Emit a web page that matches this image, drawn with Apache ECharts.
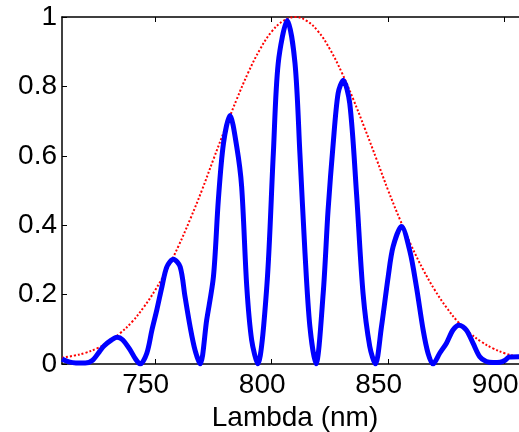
<!DOCTYPE html>
<html>
<head>
<meta charset="utf-8">
<script src="https://cdn.jsdelivr.net/npm/echarts@6/dist/echarts.min.js"></script>
<style>
  html, body { margin: 0; padding: 0; background: #fff; }
  #chart { width: 519px; height: 432px; }
</style>
</head>
<body>
<div id="chart"></div>
<script>
// measured spectrum (blue)
const lambda = [
  710, 713, 716, 720, 723, 726, 728, 731, 733.6, 736, 739.3, 741.5,
  743.6, 746.4, 748.6, 750.7, 752.9, 755, 757.8, 760.7, 762.8, 765, 767.1,
  769.3, 772.1, 775, 777.1, 779.3, 782.1, 785, 787.1, 789.3, 791.4,
  794, 797.9, 800.7, 802.8, 806.7, 810, 812.1, 814.3, 816.4,
  819, 822.1, 824.2, 826.4, 828.5, 830.7, 833.5, 836.4, 839.2, 842.1,
  844.5, 847.1, 850, 852.1, 855.7, 859.3, 862.1, 865, 867.1,
  869.2, 872.1, 875, 877.8, 880.4, 883.5, 886.4, 889.3, 892.1,
  895, 898, 900, 902, 906, 910
]
const intensity = [
  0.014, 0.006, 0.003, 0.003, 0.01, 0.035, 0.052, 0.068, 0.077, 0.07, 0.04, 0.015,
  0, 0.031, 0.098, 0.156, 0.223, 0.28, 0.302, 0.28, 0.194, 0.107, 0.04,
  0, 0.127, 0.252, 0.473, 0.636, 0.716, 0.626, 0.511, 0.223, 0.069,
  0, 0.223, 0.607, 0.867, 0.99, 0.867, 0.607, 0.319, 0.107,
  0, 0.204, 0.444, 0.636, 0.78, 0.818, 0.751, 0.492, 0.204, 0.05,
  0, 0.107, 0.252, 0.338, 0.396, 0.325, 0.223, 0.098, 0.031,
  0, 0.031, 0.06, 0.098, 0.112, 0.098, 0.06, 0.021, 0.007,
  0.004, 0.005, 0.01, 0.02, 0.021, 0.021
]

// envelope (red dotted)
const envLambda = [
  710, 715, 720, 725, 730, 735, 740, 745, 750, 755, 760, 765, 770, 775,
  780, 785, 790, 795, 800, 805, 810, 815, 820, 825, 830, 835, 840, 845,
  850, 855, 860, 865, 870, 875, 880, 885, 890, 895, 900, 905, 910
]
const envelope = [
  0.018, 0.024, 0.032, 0.045, 0.064, 0.089, 0.121, 0.163, 0.213, 0.272, 0.34, 0.417, 0.5, 0.59,
  0.678, 0.763, 0.841, 0.907, 0.958, 0.989, 1.0, 0.989, 0.958, 0.907, 0.841, 0.763, 0.678, 0.59,
  0.5, 0.417, 0.34, 0.272, 0.213, 0.163, 0.121, 0.089, 0.064, 0.045, 0.031, 0.022, 0.016
]

const xTicks = [750, 800, 850, 900]
const yTicks = [0, 0.2, 0.4, 0.6, 0.8, 1]

const font = "'Liberation Sans', Arial, sans-serif"

const chart = echarts.init(document.getElementById("chart"), null, { renderer: "canvas" })

chart.setOption({
  animation: false,
  grid: { left: 62, top: 17, width: 466, height: 347, outerBoundsMode: "none", containLabel: false },
  xAxis: [
    {
      type: "value",
      min: 710,
      max: 910,
      name: "Lambda (nm)",
      nameLocation: "middle",
      nameGap: 32,
      nameTextStyle: { fontFamily: font, fontSize: 28, color: "#000" },
      axisLine: { show: true, onZero: false, lineStyle: { color: "#000", width: 1.5 } },
      axisTick: { show: true, inside: true, length: 5, customValues: xTicks, lineStyle: { color: "#000" } },
      axisLabel: {
        customValues: xTicks,
        fontFamily: font, fontSize: 28, color: "#000", margin: 7,
        padding: [0, 19, 0, 0]
      },
      splitLine: { show: false }
    },
    {
      type: "value",
      position: "top",
      min: 710,
      max: 910,
      axisLine: { show: true, onZero: false, lineStyle: { color: "#000", width: 1.5 } },
      axisTick: { show: true, inside: true, length: 5, customValues: xTicks, lineStyle: { color: "#000" } },
      axisLabel: { show: false },
      splitLine: { show: false }
    }
  ],
  yAxis: {
    type: "value",
    min: 0,
    max: 1,
    interval: 0.2,
    axisLine: { show: true, onZero: false, lineStyle: { color: "#000", width: 1.5 } },
    axisTick: { show: true, inside: true, length: 5, customValues: yTicks, lineStyle: { color: "#000" } },
    axisLabel: { customValues: yTicks, fontFamily: font, fontSize: 28, color: "#000", margin: 5 },
    splitLine: { show: false }
  },
  series: [
    {
      name: "envelope",
      type: "line",
      xAxisIndex: 0,
      showSymbol: false,
      smooth: 0.4,
      lineStyle: { color: "#ff0000", width: 2, type: [2, 2] },
      data: envLambda.map((x, i) => [x, envelope[i]]),
      z: 2
    },
    {
      name: "spectrum",
      type: "line",
      xAxisIndex: 0,
      showSymbol: false,
      smooth: 0.3,
      lineStyle: { color: "#0000ff", width: 5 },
      data: lambda.map((x, i) => [x, intensity[i]]),
      z: 3
    }
  ]
})
</script>
</body>
</html>
